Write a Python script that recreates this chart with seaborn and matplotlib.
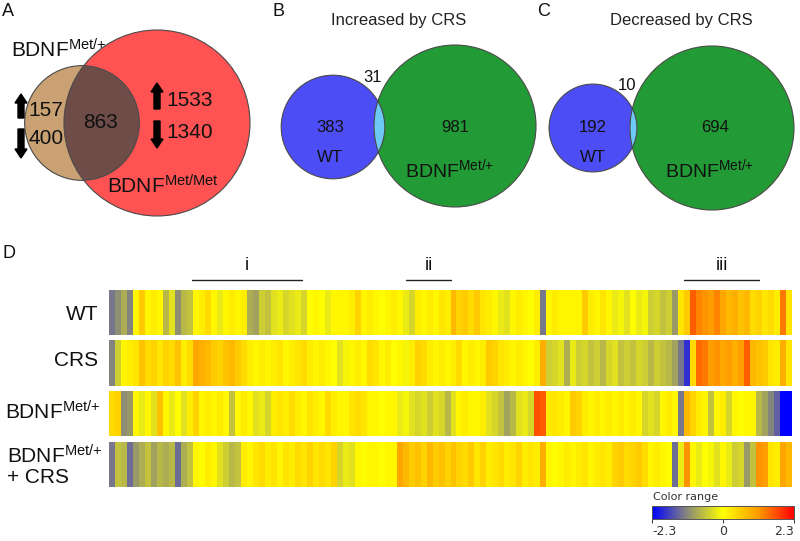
import numpy as np
import matplotlib
matplotlib.use("Agg")
import matplotlib.pyplot as plt
import seaborn as sns
from matplotlib.patches import Circle, FancyArrow
from matplotlib.colors import LinearSegmentedColormap

sns.set_style("white")
plt.rcParams['font.family'] = ['Liberation Sans', 'DejaVu Sans']
plt.rcParams['mathtext.fontset'] = 'custom'
plt.rcParams['mathtext.rm'] = 'Liberation Sans'
plt.rcParams['mathtext.it'] = 'Liberation Sans:italic'
plt.rcParams['mathtext.bf'] = 'Liberation Sans:bold'

# ---------------- data ----------------
# Panel A: BDNF Met/+ vs BDNF Met/Met
a_only_up = 157
a_only_down = 400
a_shared = 863
b_only_up = 1533
b_only_down = 1340
# Panel B: increased by CRS
inc_wt = 383
inc_shared = 31
inc_met = 981
# Panel C: decreased by CRS
dec_wt = 192
dec_shared = 10
dec_met = 694

MET = r"BDNF$^{\rm Met/{+}}$"
METMET = r"BDNF$^{\rm Met/Met}$"
row_labels = ["WT", "CRS", MET, MET + "\n+ CRS"]
bracket_labels = ["i", "ii", "iii"]
cbar_ticks = [-2.3, 0, 2.3]

wt = [-1.3, -1.1, -0.8, -1.2, 0.1, 0.6, 0.1, 0.2, 0.1, -0.7,
      -0.3, -1.1, -0.7, -0.6, 0.1, 0.2, 0.4, 0.1, -0.2, 0.1,
      0.2, 0.1, 0.2, -0.8, -0.9, -0.5, -0.6, -0.3, -0.2, -0.4,
      -0.3, -0.2, -0.4, 0.0, 0.1, 0.0, -0.2, 0.1, 0.1, 0.1,
      0.2, 0.5, 0.1, 0.2, 0.1, 0.0, 0.1, 0.2, 0.1, -0.2,
      -0.4, 0.2, 0.1, 0.2, 0.1, 0.3, 0.2, 0.8, 0.5, 0.6,
      0.4, 0.6, 0.3, 0.2, 0.1, -0.2, -0.3, 0.1, 0.2, 0.1,
      0.0, 0.2, -1.3, 0.1, 0.2, 0.1, 0.1, 0.1, 0.1, 0.6,
      0.2, 0.1, 0.3, 0.1, -0.2, -0.1, -0.3, 0.0, -0.2, -0.1,
      -0.5, -0.4, -0.6, -0.5, -1.0, 0.3, 0.6, 1.6, 1.3, 1.2,
      1.1, 1.3, 1.0, 0.8, 0.9, 0.7, 0.8, 0.4, 0.5, 0.3,
      0.4, 0.2, 1.4, 0.3]
crs = [-1.2, -0.5, 0.1, 0.2, 0.3, 0.7, 0.4, 0.5, 0.3, 0.5,
       0.4, 0.7, 0.2, 0.4, 1.0, 0.9, 0.8, 0.6, 0.5, 0.7,
       0.8, 0.6, 0.4, 0.2, 0.1, 0.2, 0.1, 0.2, 0.3, 0.1,
       0.2, 0.3, 0.4, 0.2, 0.1, 0.2, 0.1, 0.0, -0.3, -0.1,
       0.1, 0.2, 0.1, 0.4, 0.3, 0.1, 0.2, 0.0, 0.1, -0.1,
       0.2, 0.5, 0.4, 0.2, 0.1, 0.2, 0.1, 0.2, 0.4, 0.1,
       0.2, 0.1, 0.2, 0.6, 0.5, 0.3, 0.2, 0.1, 0.2, 0.1,
       0.0, 0.2, 0.9, -0.5, -0.4, -0.3, -0.8, -0.2, -0.5, -0.4,
       -0.6, -0.5, -0.7, -0.4, -0.3, -0.6, -0.5, -0.6, -0.4, -0.5,
       -0.7, -0.5, -0.6, -0.7, -0.9, -1.3, -1.9, 0.4, 1.5, 1.4,
       1.1, 1.2, 1.0, 1.1, 0.9, 1.1, 1.6, 0.8, 0.7, 0.6,
       0.3, 0.2, 0.9, 0.3]
met = [0.4, 0.5, -1.1, -1.0, 0.1, -0.2, 0.1, -0.3, 0.7, 0.1,
       -0.2, 0.0, -0.3, 0.2, 0.5, 0.1, 0.2, 0.1, 0.2, 0.1,
       -0.6, 0.1, 0.2, 0.1, -0.3, -0.2, -0.4, 0.2, 0.3, 0.2,
       0.4, 0.2, 0.1, 0.3, 0.2, 0.1, 0.4, 0.2, 0.1, 0.1,
       0.3, 0.4, 0.3, 0.1, 0.1, 0.0, 0.1, 0.1, -0.2, -0.1,
       -0.3, -0.4, -0.3, -0.5, -0.3, -0.4, -0.7, -0.3, 0.1, 0.2,
       0.1, 0.1, 0.2, -0.3, -0.4, -0.6, -0.9, -0.7, -0.3, -0.2,
       -0.4, 1.7, 1.6, 0.2, 0.3, 0.2, 0.1, 0.6, 0.5, 0.2,
       0.1, 0.2, 0.1, 0.2, 0.1, 0.2, 0.1, 0.2, 0.1, -0.4,
       -0.3, -0.4, 0.1, 0.2, 0.1, -1.3, 0.8, 0.5, 0.2, 0.1,
       -0.6, 0.1, 0.2, -0.4, 0.1, 0.0, 0.1, 0.1, -0.7, -0.9,
       -1.2, -1.5, -2.3, -2.3]
met_crs = [-1.3, -0.6, -0.7, -1.4, -1.0, -0.8, -0.6, -0.9, -0.7, -0.8,
           -0.7, -1.4, -0.8, -0.6, 0.1, 0.0, 0.2, 0.1, -0.3, -0.5,
           -0.7, -0.6, 0.2, 0.1, 0.3, 0.4, 0.2, 0.3, 0.1, 0.3,
           0.2, 0.4, 0.3, 0.5, 0.3, 0.4, 0.3, 0.5, -0.4, -0.2,
           -0.3, 0.1, 0.0, 0.1, 0.1, 0.0, 0.1, 0.1, 1.0, 0.8,
           0.6, 0.7, 0.5, 0.8, 0.6, 0.7, 0.5, 0.7, 0.5, 0.4,
           0.6, 0.3, 0.5, 0.2, 0.3, 0.4, 0.2, 0.3, 0.5, 0.2,
           0.3, 0.2, 0.9, 0.1, 0.0, 0.1, 0.2, 0.1, 0.2, 0.3,
           0.1, 0.2, 0.3, 0.2, 0.5, 0.6, 0.4, 0.5, 0.6, 0.4,
           0.1, 0.2, 0.1, 0.0, -1.4, -0.2, 1.2, 0.1, -0.2, 0.0,
           -0.1, -0.3, 0.1, -0.2, -0.5, -0.4, -1.0, -0.6, 1.2, 1.1,
           0.3, 0.2, 1.0, 0.8]

# ---------------- figure ----------------
W, H = 800, 541
fig = plt.figure(figsize=(W / 100, H / 100), dpi=100)
fig.patch.set_facecolor('white')

def px_axes(x0, y0, x1, y1):
    return fig.add_axes([x0 / W, 1 - y1 / H, (x1 - x0) / W, (y1 - y0) / H])

ov = fig.add_axes([0, 0, 1, 1])
ov.set_xlim(0, W)
ov.set_ylim(H, 0)
ov.axis('off')

TXT = '#111111'
EDGE = '#4a4a4a'

def venn(c1, r1, col1, c2, r2, col2, colx):
    p1 = Circle(c1, r1, facecolor=col1, edgecolor='none', zorder=1)
    p2 = Circle(c2, r2, facecolor=col2, edgecolor='none', zorder=1)
    ov.add_patch(p1)
    ov.add_patch(p2)
    clip = Circle(c2, r2, transform=ov.transData)
    px = Circle(c1, r1, facecolor=colx, edgecolor='none', zorder=2)
    ov.add_patch(px)
    px.set_clip_path(clip)
    ov.add_patch(Circle(c1, r1, fill=False, edgecolor=EDGE, lw=0.8, zorder=3))
    ov.add_patch(Circle(c2, r2, fill=False, edgecolor=EDGE, lw=0.8, zorder=3))

# Panel A (areas proportional to set sizes)
tot_a1 = a_only_up + a_only_down + a_shared
tot_a2 = b_only_up + b_only_down + a_shared
sA = 93 / np.sqrt(tot_a2)
venn((82, 123), sA * np.sqrt(tot_a1), '#c9a173', (157, 123), sA * np.sqrt(tot_a2), '#ff5252', '#6e4c48')

# Panel B
tot_b1 = inc_wt + inc_shared
tot_b2 = inc_met + inc_shared
sB = 81 / np.sqrt(tot_b2)
venn((333, 127), sB * np.sqrt(tot_b1), '#4d4df5', (455, 126), sB * np.sqrt(tot_b2), '#229a35', '#6ccaf5')

# Panel C
tot_c1 = dec_wt + dec_shared
tot_c2 = dec_met + dec_shared
sC = 82 / np.sqrt(tot_c2)
venn((593, 128), sC * np.sqrt(tot_c1), '#4d4df5', (712, 128), sC * np.sqrt(tot_c2), '#229a35', '#6ccaf5')

# panel letters
for lab, x, y in [("A", 2, 11), ("B", 273, 11), ("C", 537, 11), ("D", 2, 253)]:
    ov.text(x, y, lab, fontsize=13, ha='left', va='center', color=TXT)

# Panel A texts
ov.text(11, 57, MET, fontsize=15, ha='left', va='baseline', color=TXT)
ov.text(107, 193, METMET, fontsize=15, ha='left', va='baseline', color=TXT, zorder=5)
ov.text(46, 111, str(a_only_up), fontsize=15, ha='center', va='center', color=TXT, zorder=5)
ov.text(46, 139, str(a_only_down), fontsize=15, ha='center', va='center', color=TXT, zorder=5)
ov.text(101, 122, str(a_shared), fontsize=15, ha='center', va='center', color=TXT, zorder=5)
ov.text(190, 101, str(b_only_up), fontsize=15, ha='center', va='center', color=TXT, zorder=5)
ov.text(190, 132, str(b_only_down), fontsize=15, ha='center', va='center', color=TXT, zorder=5)

def arrow(x, y_from, y_to):
    ov.add_patch(FancyArrow(x, y_from, 0, y_to - y_from, width=6, head_width=12,
                            head_length=9, length_includes_head=True,
                            color='black', zorder=6))

arrow(21, 118, 94)
arrow(21, 129, 158)
arrow(157, 109, 83)
arrow(157, 121, 148)

# Panel B texts
ov.text(399, 21, "Increased by CRS", fontsize=12, ha='center', va='center', color='#222222')
ov.text(373, 78, str(inc_shared), fontsize=12, ha='center', va='center', color=TXT, zorder=5)
ov.text(330, 128, str(inc_wt), fontsize=12, ha='center', va='center', color=TXT, zorder=5)
ov.text(330, 158, "WT", fontsize=12, ha='center', va='center', color=TXT, zorder=5)
ov.text(455, 128, str(inc_met), fontsize=12, ha='center', va='center', color=TXT, zorder=5)
ov.text(405, 177, MET, fontsize=14, ha='left', va='baseline', color=TXT, zorder=5)

# Panel C texts
ov.text(681, 21, "Decreased by CRS", fontsize=12, ha='center', va='center', color='#222222')
ov.text(627, 86, str(dec_shared), fontsize=12, ha='center', va='center', color=TXT, zorder=5)
ov.text(593, 128, str(dec_wt), fontsize=12, ha='center', va='center', color=TXT, zorder=5)
ov.text(593, 157, "WT", fontsize=12, ha='center', va='center', color=TXT, zorder=5)
ov.text(715, 128, str(dec_met), fontsize=12, ha='center', va='center', color=TXT, zorder=5)
ov.text(665, 177, MET, fontsize=14, ha='left', va='baseline', color=TXT, zorder=5)

# Panel D brackets
for lab, x0, x1 in zip(bracket_labels, [192, 406, 684], [302, 451, 759]):
    ov.plot([x0, x1], [280, 280], color='#222222', lw=1.0)
    ov.text((x0 + x1) / 2, 266, lab, fontsize=13, ha='center', va='center', color=TXT)

# row labels
ov.text(98, 315, row_labels[0], fontsize=15, ha='right', va='center', color=TXT)
ov.text(98, 361, row_labels[1], fontsize=15, ha='right', va='center', color=TXT)
ov.text(5, 420, row_labels[2], fontsize=15, ha='left', va='baseline', color=TXT)
top4, bottom4 = row_labels[3].split("\n")
ov.text(7, 463, top4, fontsize=15, ha='left', va='baseline', color=TXT)
ov.text(7, 483, bottom4, fontsize=15, ha='left', va='baseline', color=TXT)

# heatmap
cmap = LinearSegmentedColormap.from_list(
    'cr', [(0.0, '#0000ff'), (0.25, '#8a8a78'), (0.5, '#ffff00'),
           (0.75, '#ff9a00'), (1.0, '#ff0000')])

rows = [wt, crs, met, met_crs]
row_boxes = [(109, 290, 792, 335), (109, 340, 792, 386),
             (109, 391, 792, 436), (109, 442, 792, 487)]
cax = px_axes(652, 506, 794, 519)
for i, (vals, box) in enumerate(zip(rows, row_boxes)):
    ax = px_axes(*box)
    sns.heatmap(np.array(vals)[None, :], ax=ax, cmap=cmap, vmin=-2.3, vmax=2.3,
                cbar=(i == 0), cbar_ax=cax if i == 0 else None,
                cbar_kws={'orientation': 'horizontal', 'ticks': cbar_ticks} if i == 0 else None,
                xticklabels=False, yticklabels=False)
    ax.set_xlabel('')
    ax.set_ylabel('')

cax.tick_params(axis='x', bottom=True, length=3, width=0.7, color='#333333',
                labelsize=9, pad=1, labelcolor='#333333')
cax.set_xticks(cbar_ticks)
cax.set_xticklabels(['-2.3', '0', '2.3'], fontfamily='DejaVu Sans')
labs = cax.get_xticklabels()
labs[0].set_ha('left')
labs[-1].set_ha('right')
for sp in cax.spines.values():
    sp.set_visible(True)
    sp.set_linewidth(0.6)
    sp.set_color('#555555')
ov.text(653, 497, "Color range", fontsize=8, ha='left', va='center', color='#333333',
        fontfamily='DejaVu Sans')

fig.savefig('out.png', dpi=100, facecolor='white')
